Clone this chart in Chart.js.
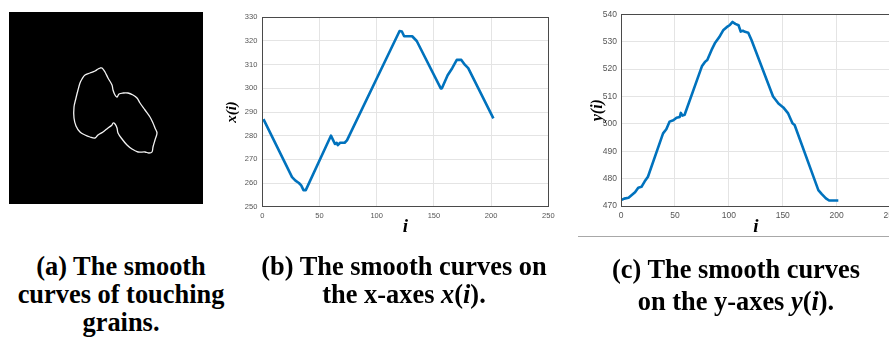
<!DOCTYPE html>
<html><head><meta charset="utf-8">
<script src="https://cdn.jsdelivr.net/npm/chart.js@4.4.1/dist/chart.umd.min.js"></script>
<style>
html,body{margin:0;padding:0;background:#fff;width:889px;height:338px;overflow:hidden;position:relative}
canvas{position:absolute;display:block}
.cap{position:absolute;width:320px;font-family:'Liberation Serif','Times New Roman',serif;font-weight:bold;font-size:26.4px;line-height:28px;text-align:center;color:#000;white-space:nowrap}
.cap i{font-style:italic}
</style></head><body>
<div style="position:absolute;left:9px;top:12px;width:194px;height:192px;background:#000"></div>
<canvas id="ca" width="194" height="192" style="left:9px;top:12px"></canvas>
<canvas id="cb" width="345" height="240" style="left:215px;top:0px"></canvas>
<canvas id="cc" width="340" height="240" style="left:570px;top:0px"></canvas>
<div style="position:absolute;left:578px;top:236px;width:311px;height:1px;background:#a8a8a8"></div>
<div class="cap" style="left:-39px;top:252px">(a) The smooth<br>curves of touching<br>grains.</div>
<div class="cap" style="left:244px;top:252px">(b) The smooth curves on<br>the x-axes <i>x</i>(<i>i</i>).</div>
<div class="cap" style="left:576px;top:253px;line-height:32px">(c) The smooth curves<br>on the y-axes <i>y</i>(<i>i</i>).</div>
<script>
// (a) grain outline, pixel coordinates inside the black image
const grainX = [91,93,96,99,103,104,106,108,110,114,119,124,128,131,136,141,144,146,148,146,144,143,140,136,129,123,118,113,109,108,106,104,103,99,94,89,86,81,76,71,67,65,65,67,69,71,73,76,81,86,89];
const grainY = [56,56,60,66,73,78,83,85,82,81,81,83,86,91,98,105,111,116,121,128,135,140,141,140,140,137,133,127,121,116,112,111,113,116,120,123,126,125,123,120,114,106,95,86,78,71,67,63,61,59,57];
// (b) x(i)
const xIdx = [1,26,29,32,34,36,38,60,62,63.5,65,66,68,72,74,120,122,124,131,135,156,157,162,166,170,174,177,180,202];
const xVal = [287,262.5,261,260,259,257,257,280,278,276.5,277,276,277,277,278,324.2,324,322,322,320,300,300,305.5,308.5,312,312,310,308.5,287.3];
// (c) y(i)
const yIdx = [0.6,3,7,10,13,16,19,22,25,39,42,45,48.5,51.5,54.5,55.5,57,59,75,78,80,84,87,91,95,98,101,103.5,106,109,111,113,115,118,121,141,146,150.5,155,159,161,183,186,190,193,201.5];
const yVal = [472.2,472.7,473,474,475,476.7,477,479,480.7,496.5,498,500.8,501.3,502.2,502.5,504,503,503.3,521,522.7,523.3,527,529.4,531.6,534.3,535.3,536.1,537.2,536.5,536,533.7,534,533.6,533.3,530.6,510,507.4,506,503.8,500.2,499.6,475.8,474.4,472.8,472,472];
const iTicks = [0,50,100,150,200,250];

const frame = {id:'frame', afterDraw(chart){
  const {ctx, chartArea:a} = chart;
  ctx.save(); ctx.strokeStyle = '#4a4a4a'; ctx.lineWidth = 1;
  ctx.strokeRect(Math.round(a.left)+0.5, Math.round(a.top)+0.5, Math.round(a.right-a.left), Math.round(a.bottom-a.top));
  ctx.restore();
}};

const grainData = grainX.map((x,k)=>({x, y:grainY[k]}));
grainData.push(grainData[0]);
new Chart(document.getElementById('ca'), {
  type:'scatter',
  data:{datasets:[{data:grainData, showLine:true, borderColor:'#f2f2f2', borderWidth:1.3, pointRadius:0, tension:0.35}]},
  options:{responsive:false, animation:false, devicePixelRatio:1,
    plugins:{legend:{display:false}, tooltip:{enabled:false}},
    layout:{padding:0},
    scales:{x:{type:'linear', min:0, max:194, display:false}, y:{type:'linear', min:0, max:192, reverse:true, display:false}}}
});

function lineChart(id, xs, ys, c){
  const data = xs.map((x,k)=>({x, y:ys[k]}));
  return new Chart(document.getElementById(id), {
    type:'scatter',
    data:{datasets:[{data, showLine:true, borderColor:'#0072BD', borderWidth:2.6, pointRadius:0, tension:0, borderJoinStyle:'round'}]},
    options:{responsive:false, animation:false, devicePixelRatio:1,
      plugins:{legend:{display:false}, tooltip:{enabled:false}},
      layout:{padding:c.pad},
      scales:{
        x:{type:'linear', min:0, max:250,
          afterBuildTicks(s){ s.ticks = iTicks.map(v=>({value:v})); },
          ticks:{padding:c.xtp, maxRotation:0, color:'#555', font:{family:"'Liberation Sans',Arial,sans-serif", size:c.fs}},
          grid:{color:'#e4e4e4', drawTicks:false}, border:{display:false},
          title:{display:true, text:'i', font:{family:"'Liberation Serif',serif", size:19, weight:'bold', style:'italic'}, color:'#000', padding:{top:0,bottom:2}},
          afterFit(s){ s.height = c.xh; }},
        y:{type:'linear', min:c.ymin, max:c.ymax,
          afterBuildTicks(s){ s.ticks = c.yticks.map(v=>({value:v})); },
          ticks:{padding:c.ytp, color:'#555', font:{family:"'Liberation Sans',Arial,sans-serif", size:c.fs}},
          grid:{color:'#e4e4e4', drawTicks:false}, border:{display:false},
          title:{display:true, text:c.ytitle, font:{family:"'Liberation Serif',serif", size:c.tfs, weight:'bold', style:'italic'}, color:'#000', padding:{top:c.ttp,bottom:0}},
          afterFit(s){ s.width = c.yw; }}
      }},
    plugins:[frame]
  });
}

lineChart('cb', xIdx, xVal, {pad:{top:17.3,right:11.7,bottom:0,left:0}, xh:33.3, yw:47.3, fs:7.5, xtp:5, ytp:5,
  ymin:250, ymax:330, yticks:[250,260,270,280,290,300,310,320,330], ytitle:'x(i)', tfs:15, ttp:8});
lineChart('cc', yIdx, yVal, {pad:{top:14.3,right:19.4,bottom:0,left:0}, xh:34, yw:51, fs:8.5, xtp:5, ytp:4,
  ymin:470, ymax:540, yticks:[470,480,490,500,510,520,530,540], ytitle:'y(i)', tfs:16, ttp:18});
</script>
</body></html>
